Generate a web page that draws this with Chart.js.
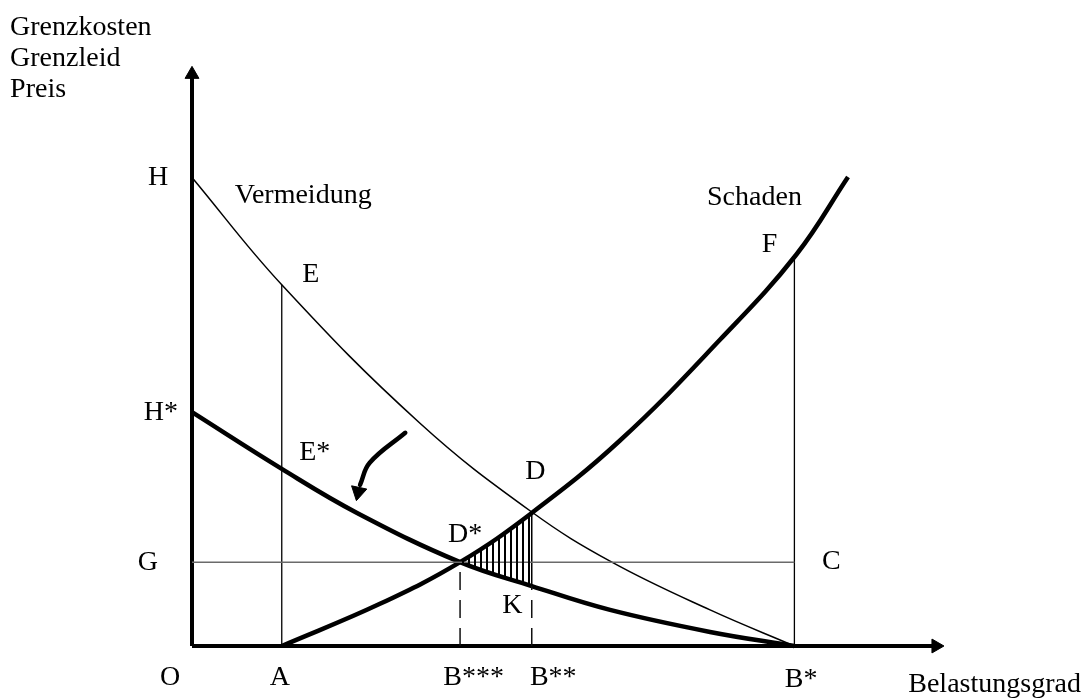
<!DOCTYPE html>
<html>
<head>
<meta charset="utf-8">
<script src="https://cdn.jsdelivr.net/npm/chart.js@4/dist/chart.umd.min.js"></script>
<style>
  html, body { margin: 0; padding: 0; background: #fff; }
  #wrap { width: 1082px; height: 698px; position: relative; }
</style>
</head>
<body>
<div id="wrap"><canvas id="chart"></canvas></div>
<script>
// --- DATA ---
// Schaden (Grenzschaden), dicke Kurve
const schadenX = [14.9, 31.2, 44.5, 56.4, 71.0, 87.6, 100.3, 108.9];
const schadenY = [0, 9.0, 17.9, 28.4, 43.8, 65.3, 83.5, 100.1];

// Vermeidung (dünne Kurve)
const vermX = [0, 14.9, 37.8, 56.4, 69.7, 86.0, 100];
const vermY = [100, 77.1, 47.6, 28.6, 17.9, 7.7, 0];

// Vermeidung nach Verschiebung (dicke Kurve)
const verm2X = [0, 14.9, 27.4, 44.5, 56.4, 69.4, 86.0, 100];
const verm2Y = [49.9, 37.8, 28.4, 17.9, 12.8, 7.7, 3.0, 0];

// schraffierte Fläche D* - D - K
const hatchTopX = [44.5, 50.3, 56.4];
const hatchTopY = [17.9, 22.9, 28.4];
const hatchBotX = [44.5, 50.3, 56.4];
const hatchBotY = [17.9, 15.2, 12.8];

// Pfeil (Verschiebung)
const arrowX = [35.4, 29.5, 27.9];
const arrowY = [45.5, 39.1, 34.4];

// Markante Werte
const xA = 14.9, xB3 = 44.5, xB2 = 56.4, xB1 = 100;
const yE = 77.1, yF = 83.5, yG = 17.9, yK = 12.8, yD = 28.4;
const xMax = 125, yMax = 124;

// Beschriftungen
const labelTexts = ['Grenzkosten', 'Grenzleid', 'Preis', 'H', 'Vermeidung', 'E', 'Schaden', 'F',
  'H*', 'E*', 'D', 'D*', 'G', 'C', 'K', 'O', 'A', 'B***', 'B**', 'B*', 'Belastungsgrad'];
const labelX = [-30.2, -30.2, -30.2, -7.3, 7.1, 18.3, 85.5, 94.6,
  -8.0, 17.8, 55.3, 42.5, -9.0, 104.6, 51.5, -5.3, 12.9, 41.7, 56.1, 98.4, 118.9];
const labelY = [130.4, 123.8, 117.2, 98.4, 94.6, 77.7, 94.1, 84.1,
  48.2, 39.7, 35.6, 22.2, 16.2, 16.4, 7.0, -8.3, -8.3, -8.3, -8.3, -8.8, -9.8];

// --- HELPERS ---
const pts = (xs, ys) => xs.map((x, i) => ({ x, y: ys[i] }));

function hatchPattern() {
  const c = document.createElement('canvas');
  c.width = 6; c.height = 6;
  const g = c.getContext('2d');
  g.fillStyle = '#000';
  g.fillRect(0, 0, 2, 6);
  return g.createPattern(c, 'repeat');
}

function line(data, width, color, extra) {
  return Object.assign({
    data, showLine: true, borderColor: color, borderWidth: width,
    pointRadius: 0, fill: false, clip: false, borderCapStyle: 'butt', tension: 0
  }, extra || {});
}

// --- LABEL PLUGIN ---
const labelPlugin = {
  id: 'labels',
  afterDraw(chart) {
    const { ctx, scales: { x, y } } = chart;
    ctx.save();
    ctx.fillStyle = '#000';
    ctx.font = '28px "Liberation Serif", "Times New Roman", serif';
    ctx.textAlign = 'left';
    ctx.textBaseline = 'alphabetic';
    labelTexts.forEach((t, i) => {
      ctx.fillText(t, x.getPixelForValue(labelX[i]), y.getPixelForValue(labelY[i]));
    });
    ctx.restore();
  }
};

// --- CHART ---
const ctx = document.getElementById('chart').getContext('2d');
new Chart(ctx, {
  type: 'scatter',
  data: {
    datasets: [
      // Schraffur
      line(pts(hatchTopX, hatchTopY), 0, 'rgba(0,0,0,0)', {
        fill: '+1', backgroundColor: hatchPattern(), tension: 0.4
      }),
      line(pts(hatchBotX, hatchBotY), 0, 'rgba(0,0,0,0)', { tension: 0.4 }),
      // Hilfslinien
      line(pts([0, xB1], [yG, yG]), 1.5, '#6a6a6a'),
      line(pts([xA, xA], [0, yE]), 1.3, '#000'),
      line(pts([xB1, xB1], [0, yF]), 1.3, '#000'),
      line(pts([xB3, xB3], [0, yG]), 1.5, '#111', { borderDash: [18, 10] }),
      line(pts([xB2, xB2], [0, yK]), 1.5, '#111', { borderDash: [18, 10] }),
      line(pts([xB2, xB2], [yK, yD]), 1.5, '#000'),
      // Kurven
      line(pts(vermX, vermY), 1.5, '#000', { tension: 0.4 }),
      line(pts(verm2X, verm2Y), 4.5, '#000', { tension: 0.4 }),
      line(pts(schadenX, schadenY), 4.5, '#000', { tension: 0.4 }),
      // Pfeil
      line(pts(arrowX, arrowY), 4.5, '#000', { tension: 0.4, borderCapStyle: 'round' }),
      {
        data: [{ x: 27.6, y: 32.9 }], showLine: false, clip: false,
        pointStyle: 'triangle', pointRadius: 9, rotation: 192,
        backgroundColor: '#000', borderColor: '#000', borderWidth: 1
      },
      // Achsen
      line(pts([0, 0], [0, 122]), 4, '#000'),
      line(pts([0, 123.5], [0, 0]), 4, '#000'),
      {
        data: [{ x: 0, y: 122 }, { x: 123.5, y: 0 }], showLine: false, clip: false,
        pointStyle: 'triangle', pointRadius: 8, rotation: [0, 90],
        backgroundColor: '#000', borderColor: '#000', borderWidth: 1
      }
    ]
  },
  options: {
    responsive: true,
    maintainAspectRatio: false,
    animation: false,
    events: [],
    layout: { padding: { left: 192, right: 137, top: 65, bottom: 52 } },
    plugins: { legend: { display: false }, tooltip: { enabled: false } },
    scales: {
      x: { type: 'linear', min: 0, max: xMax, display: false },
      y: { type: 'linear', min: 0, max: yMax, display: false }
    }
  },
  plugins: [labelPlugin]
});
</script>
</body>
</html>
